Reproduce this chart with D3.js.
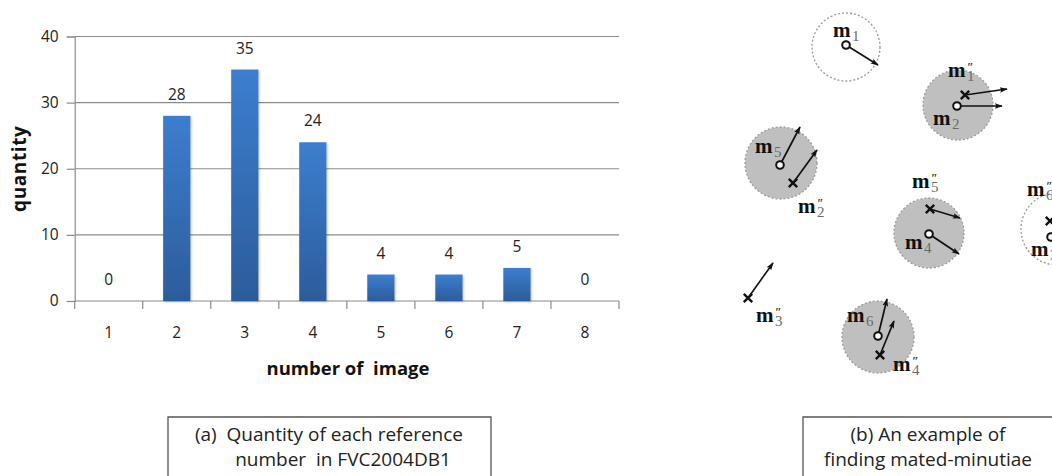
<!DOCTYPE html>
<html>
<head>
<meta charset="utf-8">
<script src="https://cdn.jsdelivr.net/npm/d3@7"></script>
<style>
  html, body { margin: 0; padding: 0; background: #fff; }
  svg { display: block; }
</style>
</head>
<body>
<svg id="fig" width="1052" height="476"></svg>
<script>
// ---- bar chart data ----
const categories = ["1", "2", "3", "4", "5", "6", "7", "8"];
const quantities = [0, 28, 35, 24, 4, 4, 5, 0];
const yTicks = [0, 10, 20, 30, 40];

// ---- minutiae diagram data (diagram units) ----
// matching regions around template minutiae
const regions = [
  { cx: 846, cy: 47, r: 34, matched: false },
  { cx: 958, cy: 105, r: 35, matched: true },
  { cx: 781, cy: 163, r: 36, matched: true },
  { cx: 929, cy: 233, r: 35, matched: true },
  { cx: 878, cy: 337, r: 36, matched: true },
  { cx: 1057, cy: 229, r: 36, matched: false }
];
// template minutiae (open circles) with direction tips
const templatePts = [
  { x: 846, y: 45, tx: 878, ty: 65 },
  { x: 957, y: 106, tx: 1002, ty: 106 },
  { x: 780, y: 165, tx: 800, ty: 127 },
  { x: 929, y: 234, tx: 959, ty: 254 },
  { x: 878, y: 336, tx: 887, ty: 299 },
  { x: 1051, y: 237, tx: null, ty: null }
];
// query minutiae (crosses) with direction tips
const queryPts = [
  { x: 965, y: 95, tx: 1007, ty: 89 },
  { x: 793, y: 183, tx: 817, ty: 150 },
  { x: 930, y: 209, tx: 960, ty: 218 },
  { x: 748, y: 298, tx: 773, ty: 263 },
  { x: 880, y: 355, tx: 894, ty: 321 },
  { x: 1050, y: 221, tx: null, ty: null }
];
// labels: index and whether it is a query minutia (double prime)
const labels = [
  { x: 833, y: 37, sub: "1", prime: false },
  { x: 948, y: 77, sub: "1", prime: true },
  { x: 933, y: 125, sub: "2", prime: false },
  { x: 755, y: 153, sub: "5", prime: false },
  { x: 798, y: 213, sub: "2", prime: true },
  { x: 912, y: 188, sub: "5", prime: true },
  { x: 905, y: 249, sub: "4", prime: false },
  { x: 756, y: 322, sub: "3", prime: true },
  { x: 847, y: 322, sub: "6", prime: false },
  { x: 893, y: 371, sub: "4", prime: true },
  { x: 1027, y: 196, sub: "6", prime: true },
  { x: 1031, y: 256, sub: "3", prime: false }
];

// ---- captions ----
const captionA = ["(a)  Quantity of each reference", "number  in FVC2004DB1"];
const captionB = ["(b) An example of", "finding mated-minutiae"];

const svg = d3.select("#fig");
const sans = "'Open Sans', 'Noto Sans', sans-serif";
const serif = "'Liberation Serif', 'DejaVu Serif', serif";

// ================= bar chart =================
const plot = { left: 74.7, right: 619, top: 36.5, bottom: 301 };

const x = d3.scaleBand()
  .domain(categories)
  .range([plot.left, plot.right])
  .paddingInner(0.6)
  .paddingOuter(0.3);
const step = x.step();

const y = d3.scaleLinear()
  .domain([0, 40])
  .range([plot.bottom, plot.top]);

const defs = svg.append("defs");
const grad = defs.append("linearGradient")
  .attr("id", "barGrad")
  .attr("x1", 0).attr("y1", 0).attr("x2", 0).attr("y2", 1);
grad.append("stop").attr("offset", "0%").attr("stop-color", "#3c7ecf");
grad.append("stop").attr("offset", "100%").attr("stop-color", "#2c5c9b");

const shadow = defs.append("filter").attr("id", "barShadow")
  .attr("x", "-30%").attr("y", "-10%").attr("width", "160%").attr("height", "130%");
shadow.append("feDropShadow")
  .attr("dx", 1).attr("dy", 1).attr("stdDeviation", 1.2)
  .attr("flood-color", "#000").attr("flood-opacity", 0.25);

const chart = svg.append("g");

// horizontal gridlines
chart.append("g")
  .selectAll("line")
  .data(yTicks.filter(d => d > 0))
  .join("line")
  .attr("x1", plot.left).attr("x2", plot.right)
  .attr("y1", d => y(d)).attr("y2", d => y(d))
  .attr("stroke", "#8c8c8c").attr("stroke-width", 1.2);

// y axis
const yAxis = chart.append("g")
  .attr("transform", `translate(${plot.left},0)`)
  .call(d3.axisLeft(y).tickValues(yTicks).tickSize(8).tickPadding(8));
yAxis.select(".domain").attr("stroke", "#8c8c8c").attr("stroke-width", 1.2);
yAxis.selectAll(".tick line").attr("stroke", "#8c8c8c").attr("stroke-width", 1.2);
yAxis.selectAll(".tick text")
  .attr("font-family", sans).attr("font-size", 15.5).attr("fill", "#222");

// x axis baseline and boundary ticks
const xAxisG = chart.append("g");
xAxisG.append("line")
  .attr("x1", plot.left).attr("x2", plot.right)
  .attr("y1", y(0)).attr("y2", y(0))
  .attr("stroke", "#8c8c8c").attr("stroke-width", 1.2);
const boundaries = categories.map(c => x(c) + x.bandwidth() / 2 - step / 2)
  .concat([x(categories[categories.length - 1]) + x.bandwidth() / 2 + step / 2]);
xAxisG.selectAll("line.tk")
  .data(boundaries)
  .join("line")
  .attr("class", "tk")
  .attr("x1", d => d).attr("x2", d => d)
  .attr("y1", y(0)).attr("y2", y(0) + 8)
  .attr("stroke", "#8c8c8c").attr("stroke-width", 1.2);
xAxisG.selectAll("text")
  .data(categories)
  .join("text")
  .attr("x", d => x(d) + x.bandwidth() / 2)
  .attr("y", y(0) + 37)
  .attr("text-anchor", "middle")
  .attr("font-family", sans).attr("font-size", 15.5).attr("fill", "#222")
  .text(d => d);

// bars
chart.append("g")
  .selectAll("rect")
  .data(quantities.map((v, i) => ({ c: categories[i], v })))
  .join("rect")
  .attr("x", d => x(d.c))
  .attr("width", x.bandwidth())
  .attr("y", d => y(d.v))
  .attr("height", d => y(0) - y(d.v))
  .attr("fill", "url(#barGrad)")
  .attr("filter", "url(#barShadow)");

// value labels
chart.append("g")
  .selectAll("text")
  .data(quantities.map((v, i) => ({ c: categories[i], v })))
  .join("text")
  .attr("x", d => x(d.c) + x.bandwidth() / 2)
  .attr("y", d => y(d.v) - 16)
  .attr("text-anchor", "middle")
  .attr("font-family", sans).attr("font-size", 15.5).attr("fill", "#222")
  .text(d => d.v);

// axis titles
chart.append("text")
  .attr("x", 348).attr("y", 375)
  .attr("text-anchor", "middle")
  .attr("font-family", sans).attr("font-size", 18.5).attr("font-weight", "bold")
  .attr("fill", "#111")
  .attr("xml:space", "preserve")
  .text("number of  image");
chart.append("text")
  .attr("transform", `translate(19,${(plot.top + plot.bottom) / 2}) rotate(-90)`)
  .attr("text-anchor", "middle")
  .attr("dominant-baseline", "central")
  .attr("font-family", sans).attr("font-size", 19).attr("font-weight", "bold")
  .attr("letter-spacing", 0.6)
  .attr("fill", "#111")
  .text("quantity");

// ================= minutiae diagram =================
const dx = d3.scaleLinear().domain([0, 1]).range([0, 1]);
const dy = d3.scaleLinear().domain([0, 1]).range([0, 1]);

const diagram = svg.append("g");

defs.append("marker")
  .attr("id", "arrowHead")
  .attr("viewBox", "0 0 10 10")
  .attr("refX", 9).attr("refY", 5)
  .attr("markerWidth", 8).attr("markerHeight", 8)
  .attr("markerUnits", "userSpaceOnUse")
  .attr("orient", "auto")
  .append("path")
  .attr("d", "M0,1.5 L10,5 L0,8.5 L2,5 Z")
  .attr("fill", "#111");

diagram.append("g")
  .selectAll("circle")
  .data(regions)
  .join("circle")
  .attr("cx", d => dx(d.cx)).attr("cy", d => dy(d.cy))
  .attr("r", d => d.r)
  .attr("fill", d => d.matched ? "#bfbfbf" : "none")
  .attr("stroke", "#9a9a9a")
  .attr("stroke-width", 1.3)
  .attr("stroke-dasharray", "2,2");

// direction arrows
const arrows = templatePts.concat(queryPts).filter(d => d.tx !== null);
diagram.append("g")
  .selectAll("line")
  .data(arrows)
  .join("line")
  .attr("x1", d => dx(d.x)).attr("y1", d => dy(d.y))
  .attr("x2", d => dx(d.tx)).attr("y2", d => dy(d.ty))
  .attr("stroke", "#111").attr("stroke-width", 1.7)
  .attr("marker-end", "url(#arrowHead)");

// template minutiae markers
diagram.append("g")
  .selectAll("circle")
  .data(templatePts)
  .join("circle")
  .attr("cx", d => dx(d.x)).attr("cy", d => dy(d.y))
  .attr("r", 3.8)
  .attr("fill", "#fff")
  .attr("stroke", "#111").attr("stroke-width", 2);

// query minutiae crosses
diagram.append("g")
  .selectAll("path")
  .data(queryPts)
  .join("path")
  .attr("d", d => {
    const cx = dx(d.x), cy = dy(d.y), s = 4.2;
    return `M${cx - s},${cy - s}L${cx + s},${cy + s}M${cx - s},${cy + s}L${cx + s},${cy - s}`;
  })
  .attr("stroke", "#111").attr("stroke-width", 2.4);

// minutia labels
const lab = diagram.append("g")
  .selectAll("g")
  .data(labels)
  .join("g")
  .attr("transform", d => `translate(${dx(d.x)},${dy(d.y)})`);
lab.append("text")
  .attr("font-family", serif).attr("font-size", 21).attr("font-weight", "bold")
  .attr("fill", "#111")
  .text("m")
  .append("tspan")
  .attr("dx", 1.5).attr("dy", 4)
  .attr("font-size", 15).attr("font-weight", "normal").attr("fill", "#6a6a6a")
  .text(d => d.sub);
lab.filter(d => d.prime)
  .append("text")
  .attr("x", 19).attr("y", -6)
  .attr("font-family", serif).attr("font-size", 12).attr("font-weight", "bold")
  .attr("fill", "#333")
  .text("\u2033");

// ================= captions =================
function caption(x0, x1, lines, centers) {
  const g = svg.append("g");
  g.append("path")
    .attr("d", `M${x0},477 L${x0},417 L${x1},417 L${x1},477`)
    .attr("fill", "none").attr("stroke", "#555").attr("stroke-width", 1.3);
  g.selectAll("text")
    .data(lines)
    .join("text")
    .attr("x", (d, i) => centers[i])
    .attr("y", (d, i) => 441 + i * 25)
    .attr("text-anchor", "middle")
    .attr("font-family", sans).attr("font-size", 19).attr("fill", "#222")
    .attr("xml:space", "preserve")
    .text(d => d);
}
caption(168, 491, captionA, [329, 343]);
caption(803, 1060, captionB, [928, 928]);
</script>
</body>
</html>
